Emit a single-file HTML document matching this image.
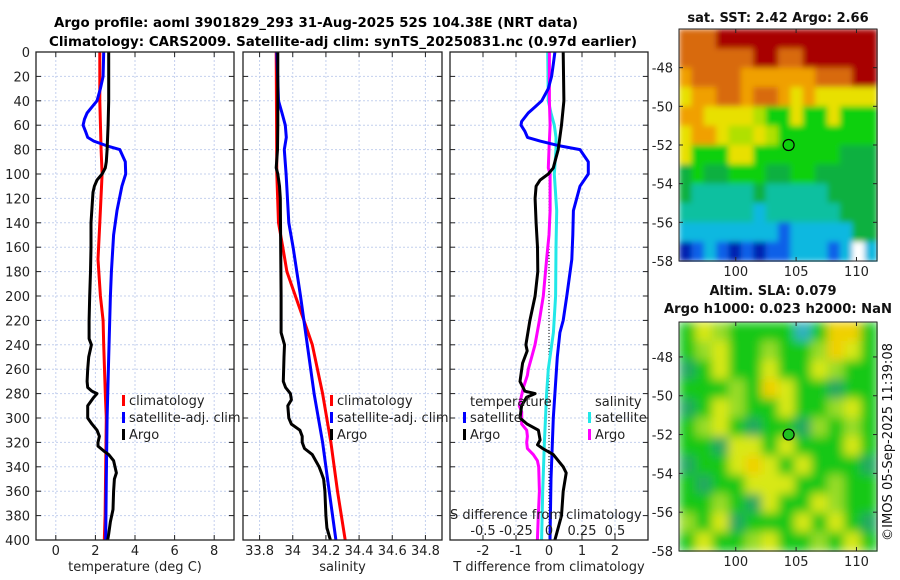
<!DOCTYPE html>
<html><head><meta charset="utf-8"><style>
html,body{margin:0;padding:0;background:#fff;}
svg{display:block;font-family:"DejaVu Sans","Liberation Sans",sans-serif;}
</style></head><body>
<svg id="fig" width="900" height="580" viewBox="0 0 900 580" xmlns="http://www.w3.org/2000/svg">
<defs>
<filter id="blurS" x="0" y="0" width="1" height="1"><feGaussianBlur stdDeviation="3" edgeMode="duplicate"/></filter>
<filter id="blurL" x="0" y="0" width="1" height="1"><feGaussianBlur stdDeviation="5" edgeMode="duplicate"/></filter>
</defs>
<rect width="900" height="580" fill="#fff"/>
<text x="316" y="27" font-size="13" font-weight="bold" text-anchor="middle" textLength="524" lengthAdjust="spacingAndGlyphs">Argo profile: aoml 3901829_293 31-Aug-2025 52S 104.38E (NRT data)</text>
<text x="343" y="46" font-size="13" font-weight="bold" text-anchor="middle" textLength="588" lengthAdjust="spacingAndGlyphs">Climatology: CARS2009. Satellite-adj clim: synTS_20250831.nc (0.97d earlier)</text>
<g id="g"></g>
</svg>
<script>
// ---- data (depth in m) ----
const tempArgoDepth=[0,20,40,60,80,90,95,100,105,110,115,120,140,160,180,200,220,235,240,250,260,270,275,278,280,283,290,300,305,310,315,320,323,327,330,335,345,350,360,375,385,395,400];
const tempArgo=[2.67,2.67,2.67,2.64,2.59,2.55,2.5,2.34,2.08,1.95,1.88,1.86,1.78,1.78,1.75,1.71,1.68,1.68,1.8,1.66,1.61,1.58,1.61,1.83,2.08,1.92,1.61,1.61,1.83,2.08,2.2,2.13,2.13,2.42,2.67,2.92,3.06,2.96,2.92,2.89,2.76,2.67,2.62];
const tempClimDepth=[0,40,80,100,140,170,200,220,240,280,300,340,380,400];
const tempClim=[2.22,2.22,2.29,2.34,2.22,2.13,2.25,2.39,2.42,2.5,2.55,2.52,2.49,2.45];
const tempSatDepth=[0,20,30,40,45,50,55,60,65,70,73,77,80,90,100,110,130,150,180,200,250,300,350,400];
const tempSat=[2.42,2.39,2.25,2.08,1.83,1.58,1.45,1.38,1.5,1.61,1.92,2.59,3.23,3.51,3.53,3.34,3.09,2.92,2.81,2.76,2.67,2.59,2.55,2.52];

const salArgoDepth=[0,40,60,80,95,100,110,120,200,230,240,250,270,275,280,285,290,300,305,310,315,320,325,330,340,345,350,360,380,390,400];
const salArgo=[33.91,33.91,33.91,33.908,33.9,33.91,33.92,33.925,33.93,33.93,33.95,33.947,33.943,33.957,33.986,33.992,33.97,33.976,33.992,34.043,34.057,34.057,34.071,34.118,34.159,34.173,34.186,34.194,34.2,34.206,34.227];
const salClimDepth=[0,100,140,160,180,200,220,240,280,320,360,400];
const salClim=[33.9,33.904,33.914,33.94,33.965,34.016,34.067,34.118,34.18,34.23,34.27,34.316];
const salSatDepth=[0,40,50,60,70,80,100,140,160,200,240,280,320,360,400];
const salSat=[33.904,33.914,33.935,33.955,33.961,33.949,33.96,33.976,34.002,34.047,34.088,34.129,34.18,34.22,34.26];

const dTSatDepth=[0,10,20,30,40,45,50,57,60,65,70,73,77,80,90,100,110,130,150,170,200,220,230,250,280,300,350,400];
const dTSat=[0.18,0.13,0.08,-0.02,-0.22,-0.42,-0.63,-0.83,-0.85,-0.73,-0.65,-0.27,0.33,0.94,1.19,1.19,0.94,0.74,0.72,0.69,0.54,0.43,0.33,0.25,0.18,0.13,0.06,0.03];
const dTArgoDepth=[0,40,60,80,90,95,100,105,110,120,140,160,180,200,220,240,245,255,270,278,280,283,290,300,305,310,318,322,325,330,340,345,350,360,380,400];
const dTArgo=[0.43,0.45,0.38,0.28,0.18,0.13,-0.02,-0.27,-0.39,-0.42,-0.39,-0.35,-0.34,-0.42,-0.58,-0.7,-0.66,-0.8,-0.88,-0.73,-0.42,-0.68,-0.83,-0.88,-0.66,-0.32,-0.27,-0.35,-0.19,0.13,0.43,0.52,0.49,0.43,0.38,0.18];
const dSSatDepth=[0,40,50,60,70,80,100,130,160,200,230,260,280,320,360,400];
const dSSat=[-0.01,-0.005,0.015,0.04,0.053,0.053,0.04,0.058,0.053,0.05,0.033,-0.005,-0.018,-0.035,-0.048,-0.056];
const dSArgoDepth=[0,40,60,80,95,100,130,150,170,200,220,240,250,260,265,275,285,290,295,300,305,310,315,320,325,330,335,340,360,380,400];
const dSArgo=[0.003,0.003,0.008,0,-0.005,0.008,0.008,0,-0.018,-0.043,-0.073,-0.106,-0.131,-0.157,-0.164,-0.194,-0.215,-0.225,-0.207,-0.207,-0.207,-0.169,-0.164,-0.169,-0.164,-0.119,-0.088,-0.078,-0.073,-0.081,-0.088];

const depthTicks=[0,20,40,60,80,100,120,140,160,180,200,220,240,260,280,300,320,340,360,380,400];
const tempTicks=[0,2,4,6,8];
const salTicks=[33.8,34,34.2,34.4,34.6,34.8];
const salTickLabels=["33.8","34","34.2","34.4","34.6","34.8"];
const dTTicks=[-2,-1,0,1,2];
const dSTicks=[-0.5,-0.25,0,0.25,0.5];
const dSTickLabels=["-0.5","-0.25","0","0.25","0.5"];

const sstGrid=["OOORRRRRRRRRRRRR","OOOOOORROORRRRRR","oOOOOooooooOOORR","YooOOoOOoYoYYYYY","ooYYYYyGGYGGYGGG","YooYyyYyGGGGGGGG","YGGGYYGGGGGGGggg","gGggGGGggGGggggg","gTTTTTgTTTTTgggg","TTTTTTCTTTTTTggg","CCCCCCCCBCCCCCgg","DBCBDBDBBCCCBCWC"];
const sstColors={R:"#a80000",O:"#d86a08",o:"#f0a000",Y:"#e8e000",y:"#b0e000",G:"#10d010",g:"#10b040",T:"#10c0a0",C:"#10b8e0",B:"#1060e8",D:"#0020b0",W:"#ffffff"};
const slaGrid=["GYyGGGGCGOOG","GyYGGyGGyOYG","gGYGGYGGYyGG","GGGyGOYGGgGG","gGYyGGYGGyYG","GyYGgGGgyGyG","GGgYYGYGGGYG","gGGYOYGYGGGg","GgGGYYYGGyGG","GGyGgYGGYyGG","yGYgGGGYGYGg","GYGGyYGGyGYG"];
const slaColors={G:"#18c818",g:"#20a860",Y:"#d8e818",y:"#98dc28",O:"#f0d000",C:"#30b0c0"};
const argoLon=[104.38], argoLat=[-52];

// ---- drawing ----
const NS="http://www.w3.org/2000/svg";
const G=document.getElementById('g');
function mk(tag,attrs,parent){const e=document.createElementNS(NS,tag);for(const k in attrs)e.setAttribute(k,attrs[k]);(parent||G).appendChild(e);return e;}
const yTop=52,yBot=540;
function yD(d){return yTop+(d/400)*(yBot-yTop);}
function lin(d0,d1,r0,r1){return v=>r0+(v-d0)/(d1-d0)*(r1-r0);}

function panel(name,x0,x1,xs,ticks,labels,title,showDepth){
  const grp=mk('g',{});
  
  
  ticks.forEach(t=>{const l=mk('line',{x1:xs(t),x2:xs(t),y1:yTop,y2:yBot,stroke:'#c4d0ee','stroke-width':1,'stroke-dasharray':'2,2'},grp);
    });
  depthTicks.forEach(d=>{const l=mk('line',{x1:x0,x2:x1,y1:yD(d),y2:yD(d),stroke:'#c4d0ee','stroke-width':1,'stroke-dasharray':'2,2'},grp);
    
    mk('line',{x1:x0,x2:x0+5,y1:yD(d),y2:yD(d),stroke:'#222'},grp);
    mk('line',{x1:x1-5,x2:x1,y1:yD(d),y2:yD(d),stroke:'#222'},grp);
    if(showDepth){const t=mk('text',{x:30,y:yD(d)+5,'font-size':13,'text-anchor':'end',fill:'#222'},grp);t.textContent=d;
      }
  });
  ticks.forEach((t,i)=>{
    mk('line',{x1:xs(t),x2:xs(t),y1:yBot-5,y2:yBot,stroke:'#222'},grp);
    mk('line',{x1:xs(t),x2:xs(t),y1:yTop,y2:yTop+5,stroke:'#222'},grp);
    const tx=mk('text',{x:xs(t),y:yBot+15,'font-size':13,'text-anchor':'middle',fill:'#222'},grp);tx.textContent=labels[i];
    
  });
  const ti=mk('text',{x:(x0+x1)/2,y:571,'font-size':13,'text-anchor':'middle',fill:'#222'},grp);ti.textContent=title;
  
  return grp;
}
function frame(x0,x1){const r=mk('rect',{x:x0,y:yTop,width:x1-x0,height:yBot-yTop,fill:'none',stroke:'#222','stroke-width':1.3});
  }
function line(depths,vals,xs,color,name,w,x0){
  const pts=depths.map((d,i)=>xs(vals[i]).toFixed(1)+','+yD(d).toFixed(1)).join(' ');
  const p=mk('polyline',{points:pts,fill:'none',stroke:color,'stroke-width':w||3,'stroke-linejoin':'round','clip-path':'url(#c'+x0+')'});
  
}
function clip(x0,x1){let d=document.querySelector('defs');const c=mk('clipPath',{id:'c'+x0},d);mk('rect',{x:x0,y:yTop,width:x1-x0,height:yBot-yTop},c);}
function legend(items,x,y){items.forEach((it,i)=>{const yy=y+i*17;
  const b=mk('rect',{x:x-7,y:yy-8,width:3,height:11,fill:it[1]});
  const t=mk('text',{x:x,y:yy+2,'font-size':13,fill:'#222'});t.textContent=it[0];});}

// Panel 1 temperature
const xT=lin(-1,9,36,234);
panel('temperature-panel',36,234,xT,tempTicks,tempTicks.map(String),'temperature (deg C)',true);clip(36,234);
line(tempClimDepth,tempClim,xT,'#ff0000','temp-climatology-line',3,36);
line(tempSatDepth,tempSat,xT,'#0000ff','temp-satellite-line',3,36);
line(tempArgoDepth,tempArgo,xT,'#000','temp-argo-line',3,36);
frame(36,234);
legend([['climatology','#ff0000'],['satellite-adj. clim','#0000ff'],['Argo','#000']],129,403);

// Panel 2 salinity
const xS=lin(33.7,34.9,243,442);
panel('salinity-panel',243,442,xS,salTicks,salTickLabels,'salinity',false);clip(243,442);
line(salClimDepth,salClim,xS,'#ff0000','sal-climatology-line',3,243);
line(salSatDepth,salSat,xS,'#0000ff','sal-satellite-line',3,243);
line(salArgoDepth,salArgo,xS,'#000','sal-argo-line',3,243);
frame(243,442);
legend([['climatology','#ff0000'],['satellite-adj. clim','#0000ff'],['Argo','#000']],337,403);

// Panel 3 differences
const xDT=lin(-3,3,450,648);
const xDS=lin(-0.75,0.75,450,648);
panel('difference-panel',450,648,xDT,dTTicks,dTTicks.map(String),'T difference from climatology',false);clip(450,648);
const zl=mk('line',{x1:xDT(0),x2:xDT(0),y1:yD(100),y2:yBot,stroke:'#000','stroke-width':1,'stroke-dasharray':'1,2'});

line(dSSatDepth,dSSat,xDS,'#22e8e8','sal-diff-satellite-line',3,450);
line(dSArgoDepth,dSArgo,xDS,'#ff00ff','sal-diff-argo-line',3,450);
line(dTSatDepth,dTSat,xDT,'#0000ff','temp-diff-satellite-line',3,450);
line(dTArgoDepth,dTArgo,xDT,'#000','temp-diff-argo-line',3,450);
frame(450,648);
{const t=mk('text',{x:470,y:406,'font-size':13,fill:'#222'});t.textContent='temperature';
 const s=mk('text',{x:595,y:406,'font-size':13,fill:'#222'});s.textContent='salinity';}
legend([['satellite','#0000ff'],['Argo','#000']],470,420);
legend([['satellite','#22e8e8'],['Argo','#ff00ff']],595,420);
{const t=mk('text',{x:450,y:519,'font-size':13,fill:'#222'});t.textContent='S difference from climatology';
 dSTicks.forEach((v,i)=>{const l=mk('text',{x:xDS(v),y:535,'font-size':13,'text-anchor':'middle',fill:'#222'});l.textContent=dSTickLabels[i];
   });}

// Maps
function map(name,grid,colors,y0,y1,latTop,filled,blur){
  const x0=679,x1=877;
  const lonS=lin(95.3,111.7,x0,x1), latS=lin(latTop,-58,y0,y1);
  const grp=mk('g',{});
  const img=mk('g',{filter:'url(#'+blur+')'},grp);
  const rows=grid.length,cols=grid[0].length,cw=(x1-x0)/cols,rh=(y1-y0)/rows;
  grid.forEach((row,r)=>{for(let c=0;c<cols;c++){mk('rect',{x:x0+c*cw,y:y0+r*rh,width:cw+0.6,height:rh+0.6,fill:colors[row[c]]},img);}});
  mk('rect',{x:x0,y:y0,width:x1-x0,height:y1-y0,fill:'none',stroke:'#222'},grp);
  [-48,-50,-52,-54,-56,-58].forEach(l=>{const y=latS(l);mk('line',{x1:x0,x2:x0+4,y1:y,y2:y,stroke:'#222'},grp);mk('line',{x1:x1-4,x2:x1,y1:y,y2:y,stroke:'#222'},grp);
    const t=mk('text',{x:673,y:y+5,'font-size':13,'text-anchor':'end',fill:'#222'},grp);t.textContent=l;});
  [100,105,110].forEach(l=>{const x=lonS(l);mk('line',{x1:x,x2:x,y1:y1-4,y2:y1,stroke:'#222'},grp);mk('line',{x1:x,x2:x,y1:y0,y2:y0+4,stroke:'#222'},grp);
    const t=mk('text',{x:x,y:y1+15,'font-size':13,'text-anchor':'middle',fill:'#222'},grp);t.textContent=l;});
  const c=mk('circle',{cx:lonS(argoLon[0]),cy:latS(argoLat[0]),r:5.5,fill:filled?'#20c020':'none',stroke:'#000','stroke-width':1.2},grp);
  
}
map('sst-map',sstGrid,sstColors,29,261,-46.0,false,'blurS');
map('sla-map',slaGrid,slaColors,322,551,-46.2,true,'blurL');
function txt(s,x,y,name,extra){const t=mk('text',Object.assign({x:x,y:y,'font-size':13,'font-weight':'bold','text-anchor':'middle',fill:'#111'},extra||{}));t.textContent=s;return t;}
txt('sat. SST: 2.42 Argo: 2.66',778,22,'sst-map-title');
txt('Altim. SLA: 0.079',773,295,'sla-map-title');
txt('Argo h1000: 0.023 h2000: NaN',778,313,'sla-map-subtitle',{textLength:228,lengthAdjust:'spacingAndGlyphs'});
txt('©IMOS 05-Sep-2025 11:39:08',0,0,'timestamp-credit',{'font-weight':'normal',transform:'translate(892,442) rotate(-90)',textLength:198,lengthAdjust:'spacingAndGlyphs'});
</script>
</body></html>
